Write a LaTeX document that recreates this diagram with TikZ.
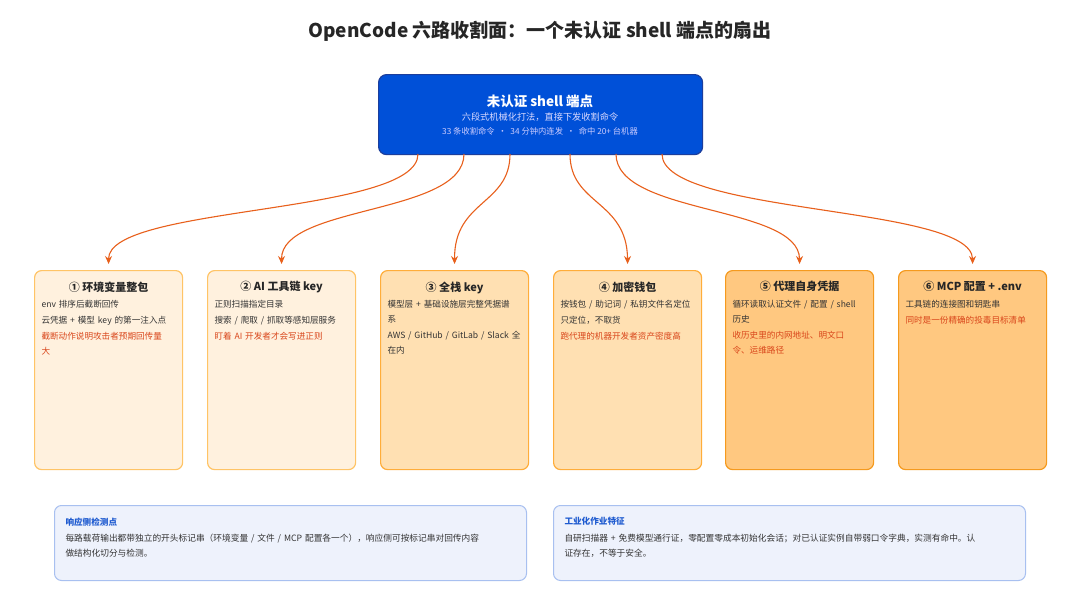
\documentclass[tikz,border=0pt]{standalone}
\usepackage{fontspec}
\setmainfont{Noto Sans CJK SC}
\XeTeXlinebreaklocale "zh"
\XeTeXlinebreakskip=0pt plus 1pt
\usetikzlibrary{arrows.meta}
\definecolor{mainblue}{HTML}{0050D8}
\definecolor{mainborder}{HTML}{1C3E9C}
\definecolor{arr}{HTML}{E8601C}
\definecolor{redtxt}{HTML}{D9461B}
\definecolor{fA}{HTML}{FFF1DE}\definecolor{bA}{HTML}{FFC466}
\definecolor{fB}{HTML}{FFE0B2}\definecolor{bB}{HTML}{FFAD3A}
\definecolor{fC}{HTML}{FFC880}\definecolor{bC}{HTML}{F59A1E}
\definecolor{noteF}{HTML}{EEF2FC}\definecolor{noteB}{HTML}{A8C0F0}
\definecolor{noteT}{HTML}{1F5BD0}
\newcommand{\tightsp}{\spaceskip=2.2pt plus 1pt minus 0.5pt\relax}
\tikzset{
 card/.style={draw=#1,line width=1.2pt,rounded corners=7pt,minimum width=148pt,minimum height=199pt,anchor=north west},
 ctitle/.style={anchor=north,font=\fontsize{11}{13}\selectfont\bfseries,text=black!85},
 ctext/.style={anchor=north west,text width=134pt,align=left,font=\fontsize{8.6}{15}\selectfont\tightsp,text=black!80},
 flow/.style={draw=arr,line width=1.1pt,-{Stealth[length=8pt,width=7pt]}},
 note/.style={draw=noteB,fill=noteF,line width=1pt,rounded corners=7pt,minimum width=472pt,minimum height=75pt,anchor=north west},
 ntext/.style={anchor=north west,align=left,font=\fontsize{8.7}{15}\selectfont\tightsp,text=black!80},
}
\newcommand{\rt}[1]{\textcolor{redtxt}{#1}}
\begin{document}
\begin{tikzpicture}[x=1pt,y=-1pt]
\useasboundingbox[fill=white] (0,0) rectangle (1080,608);
\node[font=\fontsize{19}{22}\selectfont\bfseries,text=black!85] (title) at (540,31) {OpenCode 六路收割面：一个未认证 shell 端点的扇出};
\node[draw=mainborder,fill=mainblue,line width=1.2pt,rounded corners=8pt,minimum width=324pt,minimum height=80pt,anchor=north west] (main) at (378,74) {};
\node[text=white,font=\fontsize{13.5}{15}\selectfont\bfseries] (m1) at (540,101) {未认证 shell 端点};
\node[text=white!85!blue,font=\fontsize{9.2}{11}\selectfont] (m2) at (540,117) {六段式机械化打法，直接下发收割命令};
\node[text=white!80!blue,font=\fontsize{8.3}{10}\selectfont] (m3) at (540,131) {33 条收割命令 \ · \ 34 分钟内连发 \ · \ 命中 20+ 台机器};
% cards
\node[card=bA,fill=fA] (c1) at (34,270) {};
\node[card=bA,fill=fA] (c2) at (207,270) {};
\node[card=bB,fill=fB] (c3) at (380,270) {};
\node[card=bB,fill=fB] (c4) at (553,270) {};
\node[card=bC,fill=fC] (c5) at (725,270) {};
\node[card=bC,fill=fC] (c6) at (898,270) {};
\node[ctitle] (t1) at (c1.north) [yshift=-8pt] {① 环境变量整包};
\node[ctitle] (t2) at (c2.north) [yshift=-8pt] {② AI 工具链 key};
\node[ctitle] (t3) at (c3.north) [yshift=-8pt] {③ 全栈 key};
\node[ctitle] (t4) at (c4.north) [yshift=-8pt] {④ 加密钱包};
\node[ctitle] (t5) at (c5.north) [yshift=-8pt] {⑤ 代理自身凭据};
\node[ctitle] (t6) at (c6.north) [yshift=-8pt] {⑥ MCP 配置 + .env};
\node[ctext] (x1) at (38,297) {env 排序后截断回传\\[1pt]云凭据 + 模型 key 的第一注入点\\[1pt]\rt{截断动作说明攻击者预期回传量\\大}};
\node[ctext] (x2) at (211,297) {正则扫描指定目录\\[1pt]搜索 / 爬取 / 抓取等感知层服务\\[1pt]\rt{盯着 AI 开发者才会写进正则}};
\node[ctext] (x3) at (384,297) {模型层 + 基础设施层完整凭据谱\\系\\[1pt]AWS / GitHub / GitLab / Slack 全\\在内};
\node[ctext] (x4) at (557,297) {按钱包 / 助记词 / 私钥文件名定位\\[1pt]只定位，不取货\\[1pt]\rt{跑代理的机器开发者资产密度高}};
\node[ctext] (x5) at (729,297) {循环读取认证文件 / 配置 / shell\\历史\\[1pt]\rt{收历史里的内网地址、明文口\\令、运维路径}};
\node[ctext] (x6) at (902,297) {工具链的连接图和钥匙串\\[1pt]\rt{同时是一份精确的投毒目标清单}};
% arrows
\coordinate (s1) at (418,154); \coordinate (s2) at (464,154); \coordinate (s3) at (510,154);
\coordinate (s4) at (570,154); \coordinate (s5) at (616,154); \coordinate (s6) at (662,154);
\draw[flow] (s1) .. controls (418,215) and (108,205) .. ([yshift=6pt]c1.north);
\draw[flow] (s2) .. controls (464,215) and (281,205) .. ([yshift=6pt]c2.north);
\draw[flow] (s3) .. controls (510,205) and (454,200) .. ([yshift=6pt]c3.north);
\draw[flow] (s4) .. controls (570,205) and (627,200) .. ([yshift=6pt]c4.north);
\draw[flow] (s5) .. controls (616,215) and (799,205) .. ([yshift=6pt]c5.north);
\draw[flow] (s6) .. controls (662,215) and (972,205) .. ([yshift=6pt]c6.north);
% notes
\node[note] (n1) at (54,505) {};
\node[note] (n2) at (553,505) {};
\node[anchor=north west,text=noteT,font=\fontsize{8.6}{10}\selectfont\bfseries] (n1t) at (62,514) {响应侧检测点};
\node[ntext,text width=455pt] (n1x) at (62,531) {每路载荷输出都带独立的开头标记串（环境变量 / 文件 / MCP 配置各一个），响应侧可按标记串对回传内容\\做结构化切分与检测。};
\node[ntext,text width=458pt] (n2x) at (561,531) {自研扫描器 + 免费模型通行证，零配置零成本初始化会话；对已认证实例自带弱口令字典，实测有命中。认\\证存在，不等于安全。};
\node[anchor=north west,text=noteT,font=\fontsize{8.6}{10}\selectfont\bfseries] (n2t) at (561,514) {工业化作业特征};
\end{tikzpicture}
\end{document}
